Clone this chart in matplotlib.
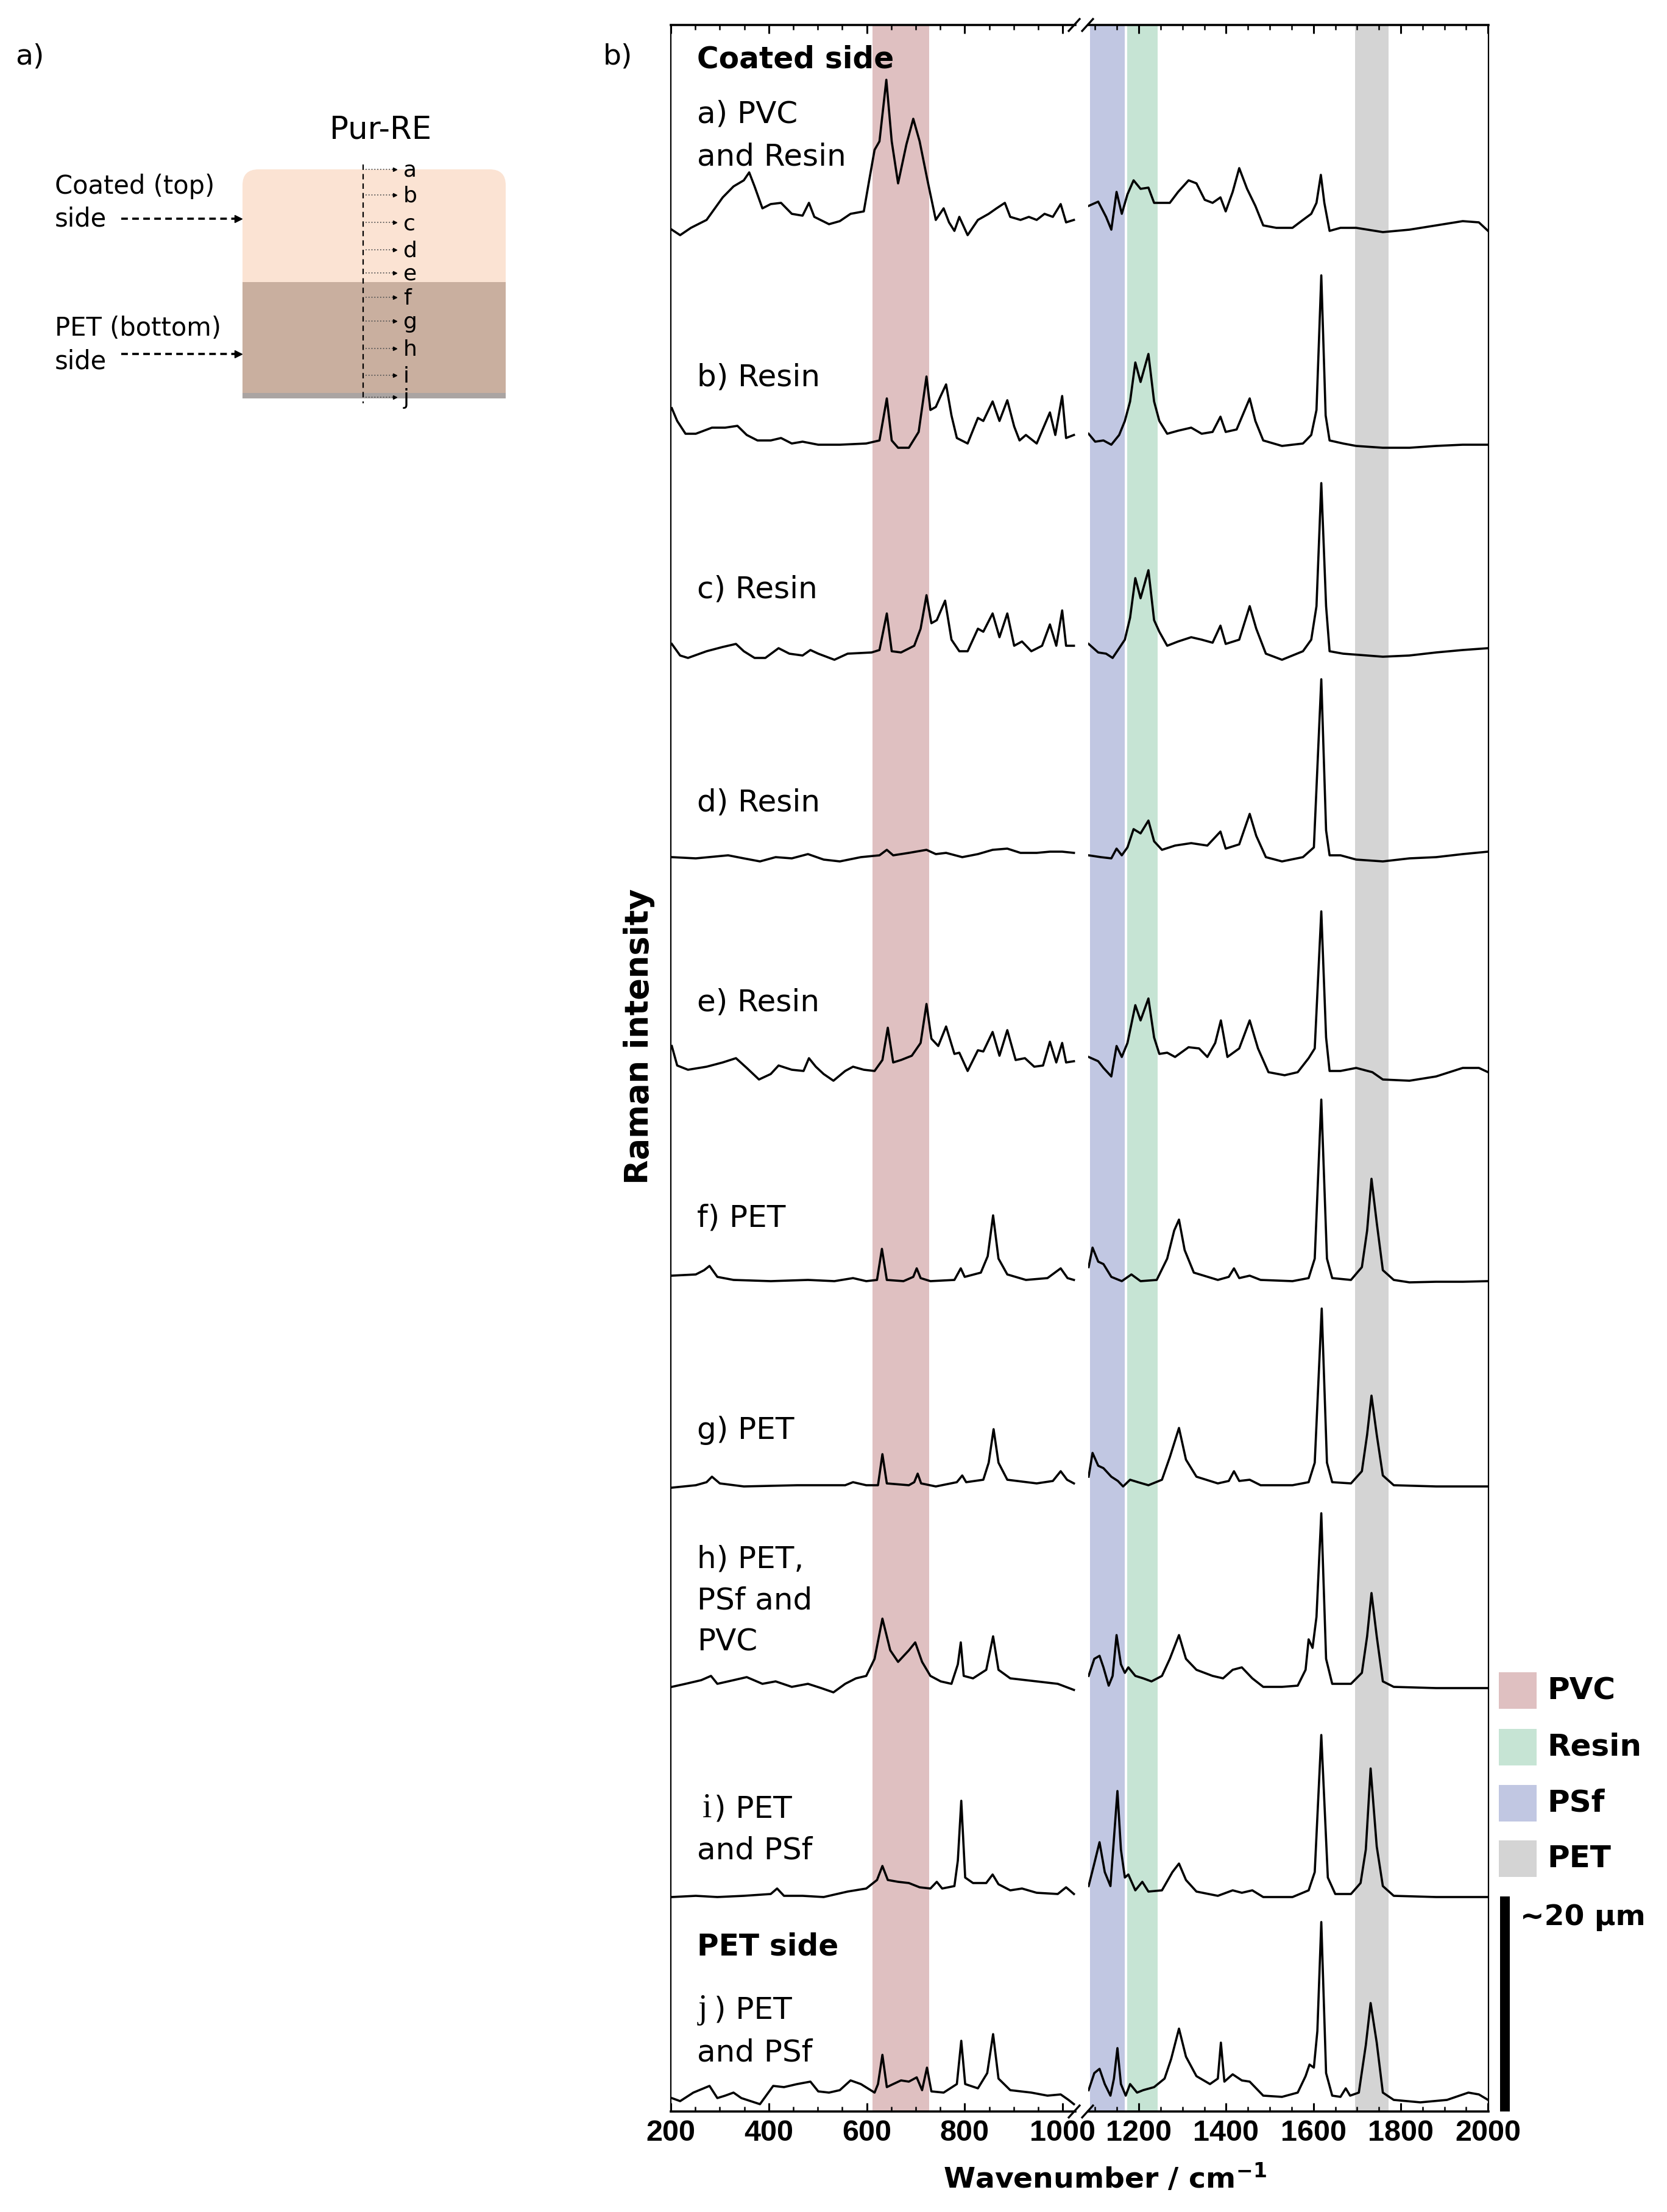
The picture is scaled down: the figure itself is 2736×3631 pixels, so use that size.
import numpy as np
import matplotlib
matplotlib.use("Agg")
import matplotlib.pyplot as plt
from matplotlib.patches import FancyBboxPatch, Rectangle
from matplotlib.ticker import MultipleLocator

plt.rcParams['font.family'] = ['DejaVu Sans']
plt.rcParams['mathtext.fontset'] = 'dejavusans'

# ---------------- data ----------------
# wavenumber (cm-1) and intensity (a.u., above each trace's own baseline)
a_wn = [202, 219, 241, 273, 306, 328, 349, 360, 371, 387,
        404, 425, 447, 469, 482, 493, 523, 545, 567, 594,
        605, 616, 626, 640, 651, 664, 681, 695, 708, 724,
        741, 757, 768, 779, 789, 806, 827, 849, 865, 882,
        893, 914, 931, 947, 963, 980, 996, 1007, 1023,
        1085, 1107, 1125, 1137, 1149, 1161, 1174, 1188, 1204, 1222,
        1235, 1271, 1290, 1314, 1332, 1351, 1369, 1387, 1399, 1415,
        1430, 1448, 1467, 1485, 1515, 1552, 1576, 1595, 1607, 1617,
        1625, 1637, 1662, 1698, 1759, 1820, 1881, 1942, 1979, 2000]
a_int = [2, -7, 5, 18, 55, 73, 83, 96, 73, 37,
         44, 46, 28, 25, 46, 23, 11, 16, 28, 32,
         83, 133, 147, 248, 147, 78, 142, 184, 147, 83,
         18, 37, 14, 0, 23, -7, 18, 28, 37, 46,
         23, 18, 23, 18, 28, 23, 44, 14, 18,
         41, 48, 23, 2, 64, 28, 60, 83, 69, 71,
         46, 46, 64, 83, 78, 51, 46, 55, 32, 64,
         103, 69, 41, 9, 5, 5, 18, 28, 46, 92,
         46, 0, 5, 5, -2, 2, 9, 16, 14, 0]

b_wn = [202, 213, 230, 251, 284, 311, 336, 355, 377, 404,
        425, 447, 469, 501, 545, 599, 626, 641, 651, 664,
        686, 706, 722, 730, 741, 751, 762, 773, 784, 806,
        827, 838, 857, 871, 887, 901, 912, 925, 947, 974,
        985, 999, 1007, 1023,
        1085, 1100, 1119, 1137, 1155, 1168, 1180, 1192, 1204, 1222,
        1235, 1247, 1265, 1290, 1320, 1344, 1369, 1387, 1399, 1424,
        1454, 1467, 1485, 1528, 1576, 1595, 1607, 1618, 1628, 1637,
        1668, 1698, 1759, 1820, 1881, 1942, 2000]
b_int = [60, 39, 18, 18, 28, 28, 31, 16, 7, 7,
         11, 2, 5, 0, 0, 2, 7, 76, 7, -5,
         -5, 21, 112, 57, 62, 80, 99, 48, 11, 2,
         44, 39, 71, 39, 73, 30, 7, 16, 2, 53,
         16, 80, 11, 16,
         18, 5, 7, 0, 16, 39, 71, 135, 103, 149,
         71, 39, 18, 23, 28, 18, 21, 46, 21, 25,
         76, 39, 7, -2, 2, 16, 57, 278, 48, 7,
         2, -2, -5, -5, -2, 0, 0]

c_wn = [202, 219, 235, 273, 306, 333, 349, 371, 393, 420,
        442, 469, 485, 501, 534, 561, 610, 626, 641, 651,
        670, 697, 710, 722, 732, 743, 760, 773, 789, 806,
        827, 838, 857, 871, 887, 901, 917, 936, 958, 974,
        987, 999, 1007, 1023,
        1085, 1107, 1125, 1140, 1155, 1168, 1180, 1192, 1204, 1222,
        1235, 1247, 1265, 1290, 1320, 1344, 1369, 1387, 1399, 1430,
        1454, 1469, 1491, 1528, 1576, 1595, 1607, 1618, 1629, 1637,
        1668, 1723, 1759, 1820, 1881, 1942, 2000]
c_int = [21, 2, -2, 9, 16, 21, 9, -2, -2, 14,
         5, 2, 11, 5, -5, 5, 7, 11, 71, 9,
         7, 18, 46, 101, 55, 60, 92, 28, 9, 9,
         46, 41, 71, 32, 71, 18, 25, 9, 18, 53,
         18, 76, 18, 18,
         21, 7, 5, -2, 14, 28, 64, 129, 96, 142,
         60, 41, 18, 25, 32, 28, 23, 51, 21, 28,
         83, 46, 5, -5, 9, 28, 83, 285, 83, 9,
         5, 2, 0, 2, 7, 11, 14]

d_wn = [202, 251, 317, 349, 382, 414, 447, 480, 512, 545,
        588, 626, 641, 654, 686, 722, 741, 762, 795, 827,
        857, 887, 914, 947, 974, 999, 1023,
        1085, 1113, 1137, 1149, 1161, 1174, 1188, 1204, 1222, 1235,
        1253, 1283, 1320, 1357, 1387, 1399, 1430, 1454, 1469, 1491,
        1528, 1576, 1601, 1618, 1629, 1637, 1662, 1698, 1759, 1820,
        1881, 1942, 2000]
d_int = [2, 0, 5, 0, -5, 2, 0, 7, -2, -5,
         2, 5, 14, 5, 9, 14, 7, 9, 2, 7,
         14, 16, 9, 9, 11, 11, 9,
         5, 2, 0, 16, 5, 18, 48, 41, 62, 28,
         14, 21, 25, 21, 44, 16, 23, 73, 37, 2,
         -5, 2, 18, 294, 46, 5, 5, -2, -5, 0,
         2, 7, 11]

e_wn = [202, 213, 235, 273, 306, 333, 355, 380, 404, 420,
        447, 471, 482, 496, 512, 532, 556, 572, 594, 616,
        632, 643, 654, 670, 692, 710, 722, 732, 746, 762,
        779, 789, 806, 827, 838, 857, 871, 887, 904, 923,
        942, 960, 974, 987, 999, 1007, 1023,
        1085, 1107, 1119, 1137, 1149, 1161, 1174, 1192, 1204, 1222,
        1235, 1247, 1265, 1283, 1314, 1338, 1357, 1375, 1388, 1403,
        1430, 1454, 1473, 1497, 1534, 1564, 1589, 1603, 1618, 1629,
        1637, 1662, 1698, 1735, 1759, 1820, 1881, 1942, 1979, 2000]
e_int = [41, 9, 2, 7, 14, 21, 5, -14, -5, 9,
         2, 0, 21, 7, -5, -16, 0, 7, 2, 0,
         18, 71, 14, 18, 25, 46, 110, 53, 41, 73,
         28, 30, 0, 34, 32, 64, 25, 67, 18, 21,
         7, 9, 48, 14, 46, 14, 16,
         23, 16, 5, -9, 41, 23, 46, 108, 83, 119,
         55, 28, 30, 23, 39, 37, 23, 46, 83, 23,
         37, 83, 37, -2, -7, -2, 21, 37, 262, 55,
         0, 0, 5, -2, -14, -16, -9, 5, 5, -2]

f_wn = [202, 251, 268, 279, 295, 328, 404, 480, 534, 572,
        599, 621, 631, 641, 675, 695, 702, 710, 730, 779,
        792, 800, 833, 847, 858, 869, 887, 925, 969, 996,
        1010, 1023,
        1085, 1094, 1107, 1119, 1137, 1161, 1183, 1204, 1241, 1265,
        1281, 1292, 1305, 1326, 1381, 1406, 1418, 1430, 1454, 1479,
        1552, 1589, 1603, 1618, 1631, 1643, 1686, 1711, 1723, 1733,
        1745, 1759, 1784, 1820, 1881, 1942, 2000]
f_int = [9, 11, 18, 25, 7, 2, 0, 2, 0, 5,
         0, 2, 53, 2, 0, 7, 21, 5, 0, 2,
         21, 7, 14, 41, 108, 37, 11, 2, 5, 21,
         5, 2,
         23, 55, 32, 28, 7, 0, 11, 0, 2, 37,
         83, 101, 51, 14, 2, 7, 21, 5, 9, 2,
         0, 5, 37, 298, 37, 5, 2, 23, 83, 168,
         96, 18, 2, -2, -1, -1, 0]

g_wn = [202, 251, 273, 284, 300, 349, 458, 556, 572, 599,
        623, 632, 641, 686, 697, 704, 711, 741, 784, 795,
        803, 838, 849, 859, 869, 887, 947, 980, 996, 1009,
        1023,
        1085, 1094, 1107, 1119, 1137, 1152, 1164, 1180, 1198, 1222,
        1253, 1271, 1292, 1308, 1332, 1381, 1406, 1418, 1430, 1454,
        1479, 1552, 1589, 1603, 1619, 1631, 1643, 1686, 1711, 1723,
        1733, 1745, 1759, 1784, 1881, 2000]
g_int = [-2, 2, 7, 16, 5, 0, 2, 2, 7, 2,
         2, 53, 5, 2, 7, 21, 5, 0, 7, 18,
         7, 11, 39, 94, 39, 11, 5, 9, 25, 11,
         5,
         16, 55, 34, 30, 16, 9, 0, 11, 7, 2,
         11, 48, 96, 44, 16, 5, 9, 25, 9, 11,
         2, 2, 7, 39, 292, 39, 7, 5, 25, 85,
         149, 85, 18, 2, 0, 0]

h_wn = [202, 230, 262, 282, 295, 328, 355, 387, 414, 447,
        480, 507, 532, 556, 578, 599, 616, 632, 648, 664,
        686, 699, 713, 730, 751, 773, 786, 792, 798, 817,
        844, 858, 869, 893, 947, 990, 1023,
        1085, 1098, 1110, 1119, 1131, 1140, 1149, 1159, 1168, 1176,
        1192, 1210, 1229, 1253, 1271, 1292, 1308, 1332, 1369, 1393,
        1415, 1436, 1460, 1485, 1528, 1564, 1582, 1589, 1598, 1607,
        1618, 1629, 1643, 1686, 1711, 1723, 1733, 1745, 1759, 1784,
        1881, 2000]
h_int = [0, 5, 11, 18, 5, 11, 16, 5, 9, 0,
         5, -2, -9, 5, 14, 18, 46, 112, 60, 41,
         60, 73, 41, 18, 9, 5, 37, 73, 18, 14,
         28, 83, 28, 14, 9, 5, -5,
         18, 46, 51, 32, 2, 18, 85, 37, 23, 32,
         18, 14, 9, 18, 46, 85, 46, 28, 18, 14,
         28, 32, 14, 0, 0, 2, 28, 78, 64, 115,
         285, 46, 5, 5, 23, 83, 154, 83, 9, 0,
         -2, -2]

i_wn = [202, 251, 295, 349, 404, 417, 431, 469, 512, 561,
        599, 621, 632, 643, 664, 686, 708, 730, 743, 754,
        779, 786, 793, 801, 817, 844, 857, 869, 893, 917,
        947, 990, 1007, 1023,
        1085, 1098, 1110, 1122, 1135, 1143, 1151, 1159, 1168, 1176,
        1192, 1208, 1222, 1253, 1277, 1292, 1308, 1332, 1381, 1415,
        1436, 1460, 1485, 1552, 1589, 1603, 1618, 1633, 1650, 1686,
        1708, 1720, 1731, 1745, 1759, 1784, 1881, 2000]
i_int = [0, 2, 0, 2, 5, 14, 2, 2, 0, 9,
         14, 28, 51, 28, 25, 23, 16, 14, 25, 14,
         18, 60, 158, 32, 23, 23, 37, 21, 11, 14,
         7, 5, 16, 5,
         18, 55, 90, 41, 18, 96, 174, 78, 32, 37,
         11, 25, 9, 11, 41, 55, 28, 9, 2, 11,
         7, 11, 0, 0, 11, 41, 266, 32, 5, 5,
         23, 78, 211, 83, 18, 2, 0, 0]

j_wn = [202, 219, 246, 279, 295, 311, 328, 344, 382, 409,
        431, 458, 485, 501, 523, 545, 567, 588, 616, 623,
        632, 641, 654, 670, 686, 702, 713, 723, 732, 757,
        784, 793, 801, 827, 846, 858, 869, 893, 936, 969,
        996, 1012, 1023,
        1085, 1098, 1110, 1122, 1135, 1143, 1151, 1159, 1170, 1180,
        1196, 1210, 1235, 1259, 1274, 1292, 1308, 1332, 1363, 1381,
        1388, 1396, 1415, 1436, 1454, 1485, 1528, 1564, 1582, 1591,
        1601, 1609, 1618, 1629, 1643, 1662, 1674, 1684, 1704, 1720,
        1731, 1745, 1759, 1784, 1845, 1906, 1955, 1979, 2000]
j_int = [5, 0, 14, 25, 5, 9, 14, 5, -5, 25,
         23, 28, 32, 16, 14, 18, 34, 28, 14, 28,
         76, 23, 28, 34, 32, 39, 18, 55, 16, 14,
         28, 99, 28, 21, 46, 110, 37, 18, 14, 9,
         11, 2, -5,
         18, 46, 53, 28, 9, 37, 87, 28, 9, 28,
         14, 18, 23, 37, 69, 119, 73, 41, 28, 37,
         96, 32, 44, 34, 32, 9, 7, 14, 41, 60,
         55, 115, 294, 46, 9, 7, 21, 9, 14, 92,
         161, 96, 14, 2, -2, 2, 14, 11, 2]

spectra_wn = [a_wn, b_wn, c_wn, d_wn, e_wn, f_wn, g_wn, h_wn, i_wn, j_wn]
spectra_int = [a_int, b_int, c_int, d_int, e_int, f_int, g_int, h_int, i_int, j_int]
offsets = [3087, 2736, 2388, 2057, 1708, 1363, 1026, 697, 352, 17]

band_names = ["PVC", "Resin", "PSf", "PET"]
band_ranges = [(612, 727), (1174, 1243), (1088, 1168), (1696, 1772)]
band_colors = ["#dfc0c1", "#c6e4d4", "#c1c7e2", "#d4d4d4"]

left_ticks = [200, 400, 600, 800, 1000]
right_ticks = [1200, 1400, 1600, 1800, 2000]

# ---------------- figure ----------------
W, H = 2736, 3631
fig = plt.figure(figsize=(W / 100, H / 100), dpi=100, facecolor="white")


def fx(x):
    return x / W


def fy(y):
    return 1 - y / H


top_px, bot_px = 41, 3466
axL = fig.add_axes([fx(1101), fy(bot_px), fx(1765) - fx(1101), fy(top_px) - fy(bot_px)])
axR = fig.add_axes([fx(1786), fy(bot_px), fx(2443) - fx(1786), fy(top_px) - fy(bot_px)])

axL.set_xlim(200, 1026)
axR.set_xlim(1084, 2001)
for ax in (axL, axR):
    ax.set_ylim(0, bot_px - top_px)
    ax.set_yticks([])
    ax.xaxis.set_minor_locator(MultipleLocator(50))
    ax.tick_params(axis="x", which="major", direction="in", length=10, width=2.2,
                   top=True, bottom=True, labelsize=35, pad=9)
    ax.tick_params(axis="x", which="minor", direction="in", length=6, width=1.8,
                   top=True, bottom=True)
    ax.spines["top"].set_linewidth(2.6)
    ax.spines["bottom"].set_linewidth(2.6)
axL.spines["right"].set_visible(False)
axR.spines["left"].set_visible(False)
axL.spines["left"].set_linewidth(1.6)
axR.spines["right"].set_linewidth(1.6)
axL.set_xticks(left_ticks)
axR.set_xticks(right_ticks)
for ax in (axL, axR):
    for lab in ax.get_xticklabels():
        lab.set_fontfamily("Liberation Sans")
        lab.set_fontweight("bold")
        lab.set_fontsize(35)

# bands
for name, (lo, hi), col in zip(band_names, band_ranges, band_colors):
    target = axL if hi < 1050 else axR
    target.axvspan(lo, hi, color=col, lw=0, zorder=0)

# spectra
for wn, inten, off in zip(spectra_wn, spectra_int, offsets):
    wn = np.asarray(wn, float)
    yv = np.asarray(inten, float) + off
    m = wn < 1050
    axL.plot(wn[m], yv[m], color="black", lw=2.6, zorder=3, solid_joinstyle="round")
    axR.plot(wn[~m], yv[~m], color="black", lw=2.6, zorder=3, solid_joinstyle="round")

# ---------------- overlay (pixel coordinates) ----------------
ov = fig.add_axes([0, 0, 1, 1], zorder=5)
ov.set_xlim(0, W)
ov.set_ylim(H, 0)
ov.set_axis_off()


def T(x, y, s, size, weight="normal", ha="left", va="baseline", family=None, rot=0):
    kw = {}
    if family is not None:
        kw["family"] = family
    ov.text(x, y, s, fontsize=size, fontweight=weight, ha=ha, va=va, rotation=rot, **kw)


# break marks
for yb in (top_px, bot_px):
    for xc in (1763, 1785):
        ov.plot([xc - 10, xc + 10], [yb + 11, yb - 11], color="black", lw=2.4,
                solid_capstyle="butt")

# axis labels
T(1049, 1701, "Raman intensity", 38, weight="bold", ha="center", va="center", rot=90)
T(1813, 3576, r"Wavenumber / cm$^{\mathbf{-1}}$", 34, weight="bold", ha="center", va="center")

# panel labels
T(25, 106, "a)", 34)
T(990, 106, "b)", 34)

# spectrum labels
LX = 1144
T(LX, 112, "Coated side", 35, weight="bold")
T(LX, 202, "a) PVC", 36)
T(LX, 271, "and Resin", 36)
T(LX, 634, "b) Resin", 36)
T(LX, 981, "c) Resin", 36)
T(LX, 1331, "d) Resin", 36)
T(LX, 1659, "e) Resin", 36)
T(LX, 2013, "f) PET", 36)
T(LX, 2362, "g) PET", 36)
T(LX, 2574, "h) PET,", 36)
T(LX, 2642, "PSf and", 36)
T(LX, 2709, "PVC", 36)
T(1153, 2983, "i", 40, family="Liberation Serif")
T(1172, 2983, ") PET", 36)
T(LX, 3052, "and PSf", 36)
T(LX, 3210, "PET side", 35, weight="bold")
T(1146, 3313, "j", 40, family="Liberation Serif")
T(1172, 3313, ") PET", 36)
T(LX, 3384, "and PSf", 36)

# legend
leg_y = [2745, 2838, 2930, 3021]
for name, col, yy in zip(band_names, band_colors, leg_y):
    ov.add_patch(Rectangle((2460, yy), 62, 60, fc=col, ec="none"))
    T(2539, yy + 30, name, 36, weight="bold", va="center")

# scale bar
ov.add_patch(Rectangle((2462, 3113), 16, bot_px - 3113, fc="black", ec="none"))
T(2495, 3160, "~20 \u03bcm", 34, weight="bold")

# ---------------- panel a schematic ----------------
ov.add_patch(FancyBboxPatch((398, 278), 432, 375,
                            boxstyle="round,pad=0,rounding_size=26",
                            fc="#fbe3d3", ec="none"))
ov.add_patch(Rectangle((398, 463), 432, 190, fc="#c9af9f", ec="none"))
ov.add_patch(Rectangle((398, 645), 432, 9, fc="#aaa4a2", ec="none"))
ov.plot([596, 596], [270, 662], color="black", lw=1.6, dashes=(4, 3))

arrow_y = [278, 320, 365, 410, 448, 488, 527, 572, 616, 652]
letters = ["a", "b", "c", "d", "e", "f", "g", "h", "i", "j"]
for yy, lt in zip(arrow_y, letters):
    ov.plot([600, 645], [yy, yy], color="#555555", lw=1.3, ls=":")
    ov.plot([648], [yy], marker=">", ms=5, color="black")
    T(662, yy + 2, lt, 26, va="center")

T(625, 227, "Pur-RE", 37, ha="center")
T(90, 318, "Coated (top)", 30)
T(90, 372, "side", 30)
T(90, 551, "PET (bottom)", 30)
T(90, 606, "side", 30)
for yy in (359, 581):
    ov.plot([199, 385], [yy, yy], color="black", lw=2.6, dashes=(3, 2))
    ov.plot([391], [yy], marker=">", ms=8, color="black")

fig.savefig("out.png", dpi=100, facecolor="white")
